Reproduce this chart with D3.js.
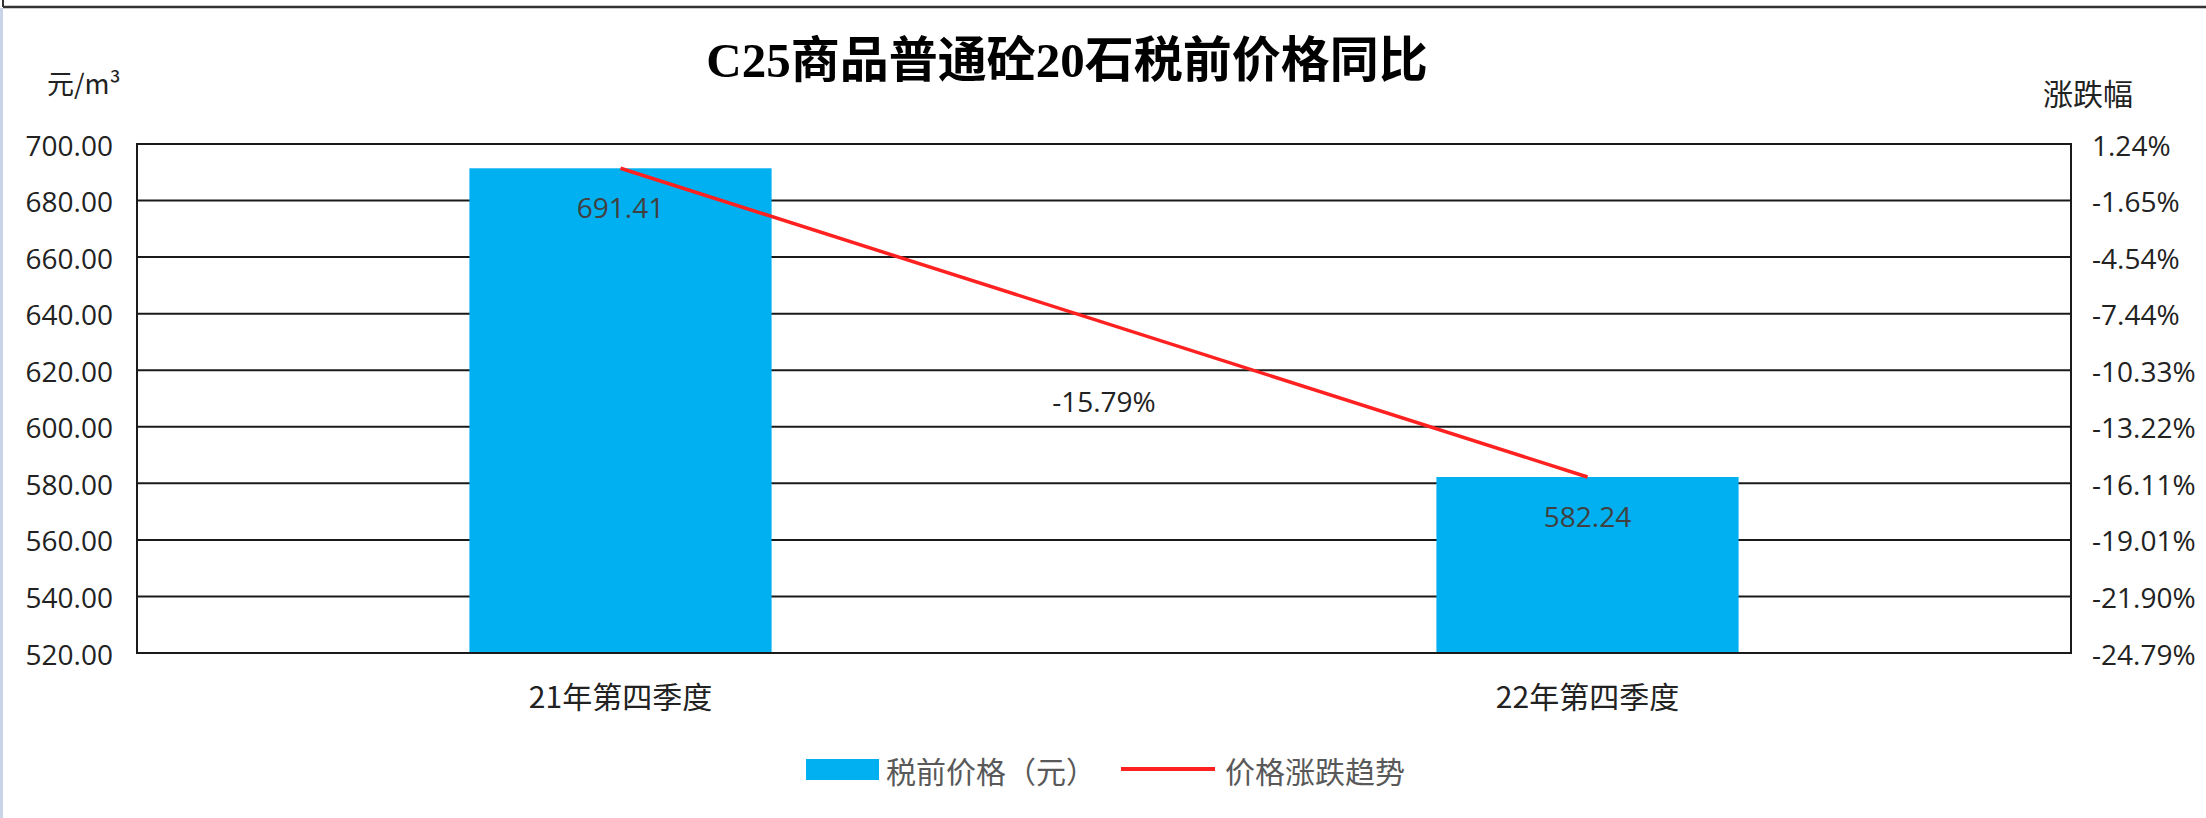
<!DOCTYPE html>
<html>
<head>
<meta charset="utf-8">
<script src="https://cdn.jsdelivr.net/npm/d3@7"></script>
<style>
  body { margin: 0; background: #fff; }
  svg { display: block; }
</style>
</head>
<body>
<div id="chart"></div>
<script>
var width = 2206,
    height = 818;

// data
var categories = ["21年第四季度", "22年第四季度"];
var prices = [691.41, 582.24];
var trend = [0, -15.79];
var trendLabels = ["", "-15.79%"];
var leftTicks = [520, 540, 560, 580, 600, 620, 640, 660, 680, 700];
var rightTicks = [1.24, -1.65, -4.54, -7.44, -10.33, -13.22, -16.11, -19.01, -21.90, -24.79];

var plotLeft = 137, plotRight = 2071, plotTop = 144, plotBottom = 653;
var numFont = "'Open Sans', 'Noto Sans CJK SC', sans-serif";
var cjkFont = "'Noto Sans CJK SC', 'Noto Sans', sans-serif";

var svg = d3.select("#chart").append("svg")
    .attr("width", width)
    .attr("height", height);

// frame bits from the sheet
svg.append("rect").attr("x", 0).attr("y", 8).attr("width", 3).attr("height", height - 8).attr("fill", "#c9d5e6");
svg.append("line").attr("x1", 3).attr("x2", width).attr("y1", 7).attr("y2", 7).attr("stroke", "#333").attr("stroke-width", 2.5);
svg.append("line").attr("x1", 3).attr("x2", 3).attr("y1", 0).attr("y2", 7).attr("stroke", "#333").attr("stroke-width", 2);

var x = d3.scaleBand()
    .domain(categories)
    .range([plotLeft, plotRight])
    .paddingInner(0.6875)
    .paddingOuter(0.34375);

var y = d3.scaleLinear()
    .domain([520, 700])
    .range([plotBottom, plotTop]);

var y2 = d3.scaleLinear()
    .domain([-24.79, 1.24])
    .range([plotBottom, plotTop]);

// gridlines
svg.append("g")
    .selectAll("line")
    .data(leftTicks)
    .enter()
    .append("line")
    .attr("x1", plotLeft)
    .attr("x2", plotRight)
    .attr("y1", function(d) { return y(d); })
    .attr("y2", function(d) { return y(d); })
    .attr("stroke", "#1a1a1a")
    .attr("stroke-width", 2);

// bars
svg.append("g")
    .selectAll("rect")
    .data(prices)
    .enter()
    .append("rect")
    .attr("x", function(d, i) { return x(categories[i]); })
    .attr("y", function(d) { return y(d); })
    .attr("width", x.bandwidth())
    .attr("height", function(d) { return plotBottom - y(d); })
    .attr("fill", "#00b0f0");

// plot border
svg.append("rect")
    .attr("x", plotLeft)
    .attr("y", plotTop)
    .attr("width", plotRight - plotLeft)
    .attr("height", plotBottom - plotTop)
    .attr("fill", "none")
    .attr("stroke", "#1a1a1a")
    .attr("stroke-width", 2);

// bar labels
svg.append("g")
    .selectAll("text")
    .data(prices)
    .enter()
    .append("text")
    .attr("x", function(d, i) { return x(categories[i]) + x.bandwidth() / 2; })
    .attr("y", function(d) { return y(d) + 39; })
    .attr("text-anchor", "middle")
    .attr("dominant-baseline", "central")
    .style("font-family", numFont)
    .style("font-size", "28px")
    .attr("fill", "#404040")
    .text(function(d) { return d.toFixed(2); });

// trend line
var line = d3.line()
    .x(function(d, i) { return x(categories[i]) + x.bandwidth() / 2; })
    .y(function(d) { return y2(d); });

svg.append("path")
    .datum(trend)
    .attr("d", line)
    .attr("fill", "none")
    .attr("stroke", "#ff2020")
    .attr("stroke-width", 3.5);

svg.append("g")
    .selectAll("text")
    .data(trend)
    .enter()
    .append("text")
    .attr("x", function() { return (x(categories[0]) + x(categories[1]) + x.bandwidth()) / 2; })
    .attr("y", function(d) { return y2(d) - 76; })
    .attr("text-anchor", "middle")
    .attr("dominant-baseline", "central")
    .style("font-family", numFont)
    .style("font-size", "28px")
    .attr("fill", "#222")
    .text(function(d, i) { return trendLabels[i]; });

// left axis
var leftAxis = d3.axisLeft(y)
    .tickValues(leftTicks)
    .tickSize(0)
    .tickPadding(24)
    .tickFormat(function(d) { return d.toFixed(2); });

var gl = svg.append("g")
    .attr("transform", "translate(" + plotLeft + ",0)")
    .call(leftAxis);
gl.select(".domain").remove();
gl.selectAll("text")
    .attr("dy", null)
    .attr("dominant-baseline", "central")
    .style("font-family", numFont)
    .style("font-size", "28px")
    .attr("fill", "#222");

// right axis
var rightAxis = d3.axisRight(y2)
    .tickValues(rightTicks)
    .tickSize(0)
    .tickPadding(21)
    .tickFormat(function(d) { return d.toFixed(2) + "%"; });

var gr = svg.append("g")
    .attr("transform", "translate(" + plotRight + ",0)")
    .call(rightAxis);
gr.select(".domain").remove();
gr.selectAll("text")
    .attr("dy", null)
    .attr("dominant-baseline", "central")
    .style("font-family", numFont)
    .style("font-size", "28px")
    .attr("fill", "#222");

// x axis
var xAxis = d3.axisBottom(x)
    .tickSize(0)
    .tickPadding(0);

var gx = svg.append("g")
    .attr("transform", "translate(0," + plotBottom + ")")
    .call(xAxis);
gx.select(".domain").remove();
gx.selectAll("text")
    .attr("y", 42)
    .attr("dy", null)
    .attr("dominant-baseline", "central")
    .style("font-family", cjkFont)
    .style("font-size", "30px")
    .attr("fill", "#222");

// title
svg.append("text")
    .attr("x", 1067)
    .attr("y", 60)
    .attr("text-anchor", "middle")
    .attr("dominant-baseline", "central")
    .style("font-family", "'Liberation Serif', 'Noto Sans CJK SC', serif")
    .style("font-weight", "bold")
    .style("font-size", "49px")
    .attr("fill", "#000")
    .text("C25商品普通砼20石税前价格同比");

// axis units
svg.append("text")
    .attr("x", 47)
    .attr("y", 82)
    .attr("dominant-baseline", "central")
    .style("font-family", cjkFont)
    .style("font-size", "27px")
    .attr("fill", "#222")
    .text("元/m³");

svg.append("text")
    .attr("x", 2043)
    .attr("y", 92)
    .attr("dominant-baseline", "central")
    .style("font-family", cjkFont)
    .style("font-size", "30px")
    .attr("fill", "#222")
    .text("涨跌幅");

// legend
var legend = svg.append("g");
legend.append("rect")
    .attr("x", 806).attr("y", 759)
    .attr("width", 73).attr("height", 21)
    .attr("fill", "#00b0f0");
legend.append("text")
    .attr("x", 886).attr("y", 770)
    .attr("dominant-baseline", "central")
    .style("font-family", cjkFont)
    .style("font-size", "30px")
    .attr("fill", "#595959")
    .text("税前价格（元）");
legend.append("line")
    .attr("x1", 1121).attr("x2", 1215)
    .attr("y1", 769).attr("y2", 769)
    .attr("stroke", "#ff2020")
    .attr("stroke-width", 4);
legend.append("text")
    .attr("x", 1225).attr("y", 770)
    .attr("dominant-baseline", "central")
    .style("font-family", cjkFont)
    .style("font-size", "30px")
    .attr("fill", "#595959")
    .text("价格涨跌趋势");
</script>
</body>
</html>
